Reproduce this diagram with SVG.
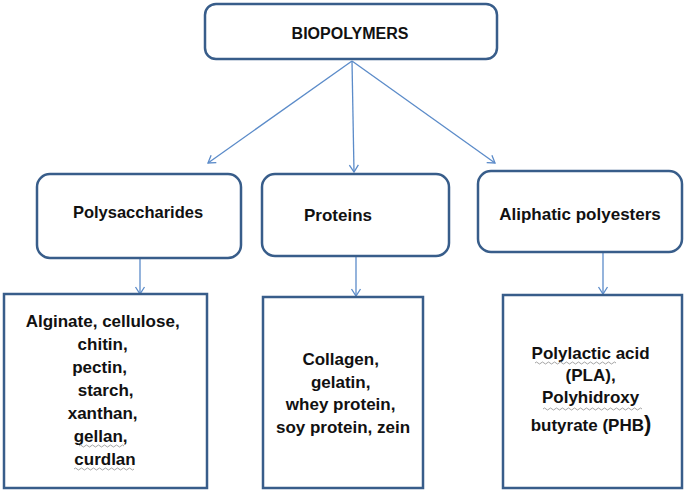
<svg xmlns="http://www.w3.org/2000/svg" width="685" height="491" viewBox="0 0 685 491">
<defs>
<style>
.box{fill:#fff;stroke:#385D8A;stroke-width:2.5}
.lbl{font-family:"Liberation Sans",Arial,sans-serif;font-weight:bold;fill:#111;text-anchor:middle}
.conn{stroke:#5B8BC9;stroke-width:1.3;fill:none}
.wave{stroke:#9a9a9a;stroke-width:0.9;fill:none}
</style>
<marker id="arr" markerWidth="12" markerHeight="12" refX="9" refY="6" orient="auto" markerUnits="userSpaceOnUse">
<path d="M2,1.5 L9,6 L2,10.5" fill="none" stroke="#5B8BC9" stroke-width="1.3"/>
</marker>
</defs>
<rect width="685" height="491" fill="#fff"/>

<g id="connectors">
<line class="conn" x1="352" y1="61" x2="208" y2="163" marker-end="url(#arr)"/>
<line class="conn" x1="352" y1="61" x2="354" y2="172" marker-end="url(#arr)"/>
<line class="conn" x1="352" y1="61" x2="495" y2="163" marker-end="url(#arr)"/>
<line class="conn" x1="140" y1="258" x2="140" y2="294" marker-end="url(#arr)"/>
<line class="conn" x1="356" y1="256" x2="356" y2="296" marker-end="url(#arr)"/>
<line class="conn" x1="603" y1="252" x2="603" y2="294" marker-end="url(#arr)"/>
</g>

<g id="biopolymers">
<rect class="box" x="205" y="4" width="292" height="55" rx="11"/>
<text class="lbl" x="350" y="39" font-size="16">BIOPOLYMERS</text>
</g>

<g id="polysaccharides">
<rect class="box" x="37" y="174" width="204" height="84" rx="13"/>
<text class="lbl" x="138" y="218" font-size="16.5">Polysaccharides</text>
</g>

<g id="proteins">
<rect class="box" x="262" y="174" width="187" height="82" rx="13"/>
<text class="lbl" x="338" y="221" font-size="17">Proteins</text>
</g>

<g id="aliphatic">
<rect class="box" x="478" y="171" width="204" height="81" rx="13"/>
<text class="lbl" x="580" y="220" font-size="17">Aliphatic polyesters</text>
</g>

<g id="polysaccharides-list">
<rect class="box" x="4" y="294" width="203" height="194"/>
<text class="lbl" font-size="17">
<tspan x="105" y="327">Alginate, cellulose,</tspan>
<tspan x="105" y="350">chitin,</tspan>
<tspan x="102" y="373">pectin,</tspan>
<tspan x="108" y="396">starch,</tspan>
<tspan x="105" y="419">xanthan,</tspan>
<tspan x="103" y="442">gellan,</tspan>
<tspan x="105" y="465">curdlan</tspan>
</text>
<path class="wave" d="M79,446 q1.5,-2 3,0 t3,0 t3,0 t3,0 t3,0 t3,0 t3,0 t3,0 t3,0 t3,0 t3,0 t3,0 t3,0 t3,0 t3,0"/>
<path class="wave" d="M74,469 q1.5,-2 3,0 t3,0 t3,0 t3,0 t3,0 t3,0 t3,0 t3,0 t3,0 t3,0 t3,0 t3,0 t3,0 t3,0 t3,0 t3,0 t3,0 t3,0 t3,0 t3,0"/>
</g>

<g id="proteins-list">
<rect class="box" x="263" y="297" width="160" height="191"/>
<text class="lbl" font-size="17">
<tspan x="343" y="365">Collagen,</tspan>
<tspan x="343" y="387.5">gelatin,</tspan>
<tspan x="343" y="410">whey protein,</tspan>
<tspan x="343" y="432.5">soy protein, zein</tspan>
</text>
</g>

<g id="polyesters-list">
<rect class="box" x="503" y="295" width="179" height="193"/>
<text class="lbl" font-size="17">
<tspan x="593" y="359">Polylactic acid</tspan>
<tspan x="593" y="381">(PLA),</tspan>
<tspan x="593" y="403">Polyhidroxy</tspan>
<tspan x="591" y="431">butyrate (PHB<tspan font-size="22">)</tspan></tspan>
</text>
<path class="wave" d="M535,363 q1.5,-2 3,0 t3,0 t3,0 t3,0 t3,0 t3,0 t3,0 t3,0 t3,0 t3,0 t3,0 t3,0 t3,0 t3,0 t3,0 t3,0 t3,0 t3,0 t3,0 t3,0 t3,0 t3,0 t3,0 t3,0 t3,0 t3,0 t3,0"/>
<path class="wave" d="M543,409 q1.5,-2 3,0 t3,0 t3,0 t3,0 t3,0 t3,0 t3,0 t3,0 t3,0 t3,0 t3,0 t3,0 t3,0 t3,0 t3,0 t3,0 t3,0 t3,0 t3,0 t3,0 t3,0 t3,0 t3,0 t3,0 t3,0 t3,0 t3,0 t3,0 t3,0 t3,0 t3,0 t3,0 t3,0"/>
</g>
</svg>
